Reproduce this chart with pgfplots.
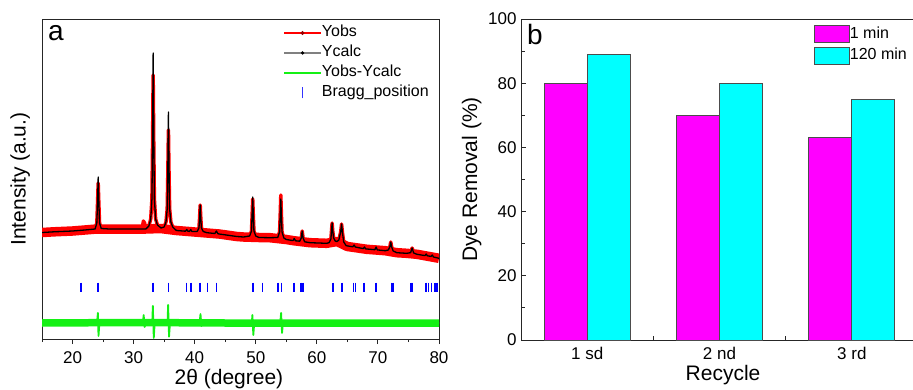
\documentclass[border=0pt]{standalone}
\usepackage{fontspec}
\setmainfont{Liberation Sans}
\usepackage{pgfplots}
\pgfplotsset{compat=1.18}
\definecolor{obsred}{RGB}{255,0,0}
\definecolor{diffgreen}{RGB}{20,240,20}
\definecolor{braggblue}{RGB}{0,0,255}
\definecolor{barmag}{RGB}{255,0,255}
\definecolor{barcyan}{RGB}{0,255,255}
\begin{document}
\begin{tikzpicture}[font=\fontsize{17}{20}\selectfont]
\path[use as bounding box] (0,0) rectangle (913pt,389pt);
% ---------------- panel a ----------------
\begin{axis}[
  at={(42pt,50pt)}, anchor=south west, scale only axis,
  width=397pt, height=320pt,
  xmin=15, xmax=80, ymin=0, ymax=320,
  ytick=\empty,
  xtick={20,30,...,80}, minor xtick={15,25,...,75},
  xtick pos=bottom, tick align=outside,
  major tick length=5pt, minor tick length=3pt,
  axis line style={line width=0.9pt, black!85},
  every tick/.style={black!85, line width=0.9pt},
  /pgf/number format/assume math mode=true,
  tick label style={font=\fontsize{17}{20}\selectfont},
  xticklabel style={yshift=-4pt},
  label style={font=\fontsize{21}{24}\selectfont},
  xlabel={2θ (degree)},
  ylabel={Intensity (a.u.)},
  xlabel style={at={(axis description cs:0.471,-0.125)}, anchor=center},
  ylabel style={at={(axis description cs:-0.055,0.5)}, anchor=center},
  legend image code/.code={\draw[mark repeat=2,mark phase=2,#1] plot coordinates {(0pt,0pt) (18.5pt,0pt) (37pt,0pt)};},
  legend style={draw=none, fill=none, at={(axis description cs:0.607,0.982)}, anchor=north west,
    inner sep=0pt, row sep=4pt, font=\fontsize{16}{18}\selectfont,
    nodes={inner sep=0pt, text height=12pt, text depth=4pt},
    /tikz/every even column/.append style={column sep=7pt}},
  legend cell align=left,
]
\addlegendimage{obsred, line width=1.6pt, mark=*, mark size=1pt, mark options={fill=red!60!black, draw=red!60!black}}
\addlegendentry{Yobs}
\addlegendimage{black!50, line width=1.3pt, mark=*, mark size=0.9pt, mark options={fill=black, draw=black}}
\addlegendentry{Ycalc}
\addlegendimage{color=diffgreen, line width=1.8pt}
\addlegendentry{Yobs-Ycalc}
\addlegendimage{legend image code/.code={\draw[braggblue!80, line width=1.2pt] (18.5pt,-5.5pt) -- (18.5pt,5.5pt);}}
\addlegendentry{Bragg\_position}
% Yobs noise band (background level)
\addplot[obsred, line width=9.5pt, line join=round, forget plot] coordinates {
(15,106.5) (17,107.2) (20,108) (22,109) (24,110) (26,110) (28,110) (30,110) (32,110) (34.4,110.5) (37,108.5) (39,107.5) (42,106) (44,105) (46.9,102.5) (48,102) (50.5,101.5) (52.3,101.3) (53.5,100.5) (55,99.5) (56.2,98.3) (58.9,96.3) (61.6,95.7) (63.3,97.5) (65,92.5) (68.2,89.7) (71.2,88.3) (73.1,86.3) (74.7,85.7) (76.4,84.7) (79.1,81.7) (80,80.7)};
% Yobs
\addplot[obsred, line width=3.5pt, line join=round, forget plot] coordinates {
(15,106.5) (17,107.2) (20,108) (22,109) (23.7,110) (23.98,116) (24.1,137) (24.2,156) (24.3,137) (24.42,116) (24.7,110.5) (26,110) (28,110) (30,110) (31.4,110) (31.6,118) (31.8,116) (32,110) (32.5,113) (32.8,120) (33.0,140) (33.1,195) (33.2,264) (33.3,195) (33.4,140) (33.6,120) (33.9,114) (34.5,111) (35.0,112) (35.3,117) (35.5,130) (35.6,165) (35.7,209) (35.8,165) (35.9,130) (36.1,117) (36.4,112) (37,108.5) (38.5,107.8) (38.7,109.5) (38.9,107.8) (39.15,107.6) (39.35,109.5) (39.55,107.5) (40.4,107.5) (40.7,111) (40.8,121) (40.9,134) (41.0,121) (41.1,111) (41.4,107.5) (42,106.3) (43.3,105.5) (43.55,108) (43.8,105.3) (44,105) (46.9,102.5) (48,102) (49.0,103) (49.3,108) (49.4,123) (49.5,140) (49.6,123) (49.7,108) (50.0,103) (50.5,101.5) (52.3,101.3) (53.6,101.5) (53.9,107) (54.0,124) (54.1,144) (54.2,124) (54.3,107) (54.6,101) (55,99.5) (56.1,98.4) (56.3,100.5) (56.5,98.2) (57.2,97.8) (57.45,101) (57.6,108) (57.75,101) (58.0,97.2) (58.9,96.3) (61.6,95.7) (62.0,96.3) (62.3,100) (62.4,108) (62.5,116) (62.6,108) (62.75,101) (63.0,98) (63.3,97.5) (63.6,99) (63.9,107) (64.05,115) (64.2,106) (64.4,97) (64.8,93.3) (65.9,92.2) (66.1,94) (66.3,92) (67.6,90.4) (67.8,92) (68.0,90.1) (69.5,89.3) (69.7,92) (69.9,89.1) (71.2,88.3) (71.7,89) (71.95,92) (72.1,97) (72.25,92) (72.5,88) (73.1,86.3) (74.7,85.7) (75.35,86.3) (75.6,91) (75.85,86) (76.4,84.7) (77.7,83.4) (77.9,85) (78.1,83.2) (78.7,82.6) (78.9,84) (79.1,82) (80,80.7)};
% Ycalc
\addplot[black, line width=1.3pt, line join=round, forget plot] coordinates {
(15,106.5) (17,107.2) (20,108) (22,109) (23.7,110) (23.98,116) (24.1,139) (24.2,162) (24.3,139) (24.42,116) (24.7,110.5) (26,110) (28,110) (30,110) (32,110) (32.5,113) (32.8,120) (33.0,140) (33.1,200) (33.2,286) (33.3,200) (33.4,140) (33.6,120) (33.9,114) (34.5,111) (35.0,112) (35.3,117) (35.5,130) (35.6,170) (35.7,227) (35.8,170) (35.9,130) (36.1,117) (36.4,112) (37,108.5) (38.5,107.8) (38.7,109.5) (38.9,107.8) (39.15,107.6) (39.35,109.5) (39.55,107.5) (40.4,107.5) (40.7,111) (40.8,120) (40.9,134) (41.0,120) (41.1,111) (41.4,107.5) (42,106.3) (43.3,105.5) (43.55,108) (43.8,105.3) (44,105) (46.9,102.5) (48,102) (49.0,103) (49.3,108) (49.4,124) (49.5,142) (49.6,124) (49.7,108) (50.0,103) (50.5,101.5) (52.3,101.3) (53.6,101.5) (53.9,107) (54.0,122) (54.1,140) (54.2,122) (54.3,107) (54.6,101) (55,99.5) (56.1,98.4) (56.3,100.5) (56.5,98.2) (57.2,97.8) (57.45,101) (57.6,108) (57.75,101) (58.0,97.2) (58.9,96.3) (61.6,95.7) (62.0,96.3) (62.3,100) (62.4,108) (62.5,116) (62.6,108) (62.75,101) (63.0,98) (63.3,97.5) (63.6,99) (63.9,107) (64.05,115) (64.2,106) (64.4,97) (64.8,93.3) (65.9,92.2) (66.1,94) (66.3,92) (67.6,90.4) (67.8,92) (68.0,90.1) (69.5,89.3) (69.7,92) (69.9,89.1) (71.2,88.3) (71.7,89) (71.95,92) (72.1,97) (72.25,92) (72.5,88) (73.1,86.3) (74.7,85.7) (75.35,86.3) (75.6,91) (75.85,86) (76.4,84.7) (77.7,83.4) (77.9,85) (78.1,83.2) (78.7,82.6) (78.9,84) (79.1,82) (80,80.7)};
% difference band
\addplot[diffgreen, line width=7.5pt, forget plot] coordinates {
(15,16) (30,16.5) (45,16) (60,16) (80,16)};
% difference spikes
\addplot[diffgreen, line width=1.8pt, line join=round, forget plot] coordinates {
(15,16) (24.0,16) (24.15,26) (24.25,3) (24.4,16) (31.5,16) (31.65,24) (31.8,12) (32.0,16) (33.05,16) (33.15,33) (33.3,1) (33.45,16) (35.55,16) (35.65,34) (35.8,2.3) (35.95,16) (40.8,16) (40.95,25) (41.1,13) (41.3,16) (49.35,16) (49.45,24) (49.6,4) (49.75,16) (54.0,16) (54.15,26) (54.3,6) (54.45,16) (80,16)};
% Bragg positions
\addplot[braggblue, only marks, mark=|, mark size=4.8pt, mark options={line width=1.6pt}, forget plot] coordinates {
(21.38,51.5) (24.12,51.5) (33.22,51.5) (35.74,51.5) (38.69,51.5) (39.35,51.5) (40.90,51.5) (42.07,51.5) (43.57,51.5) (49.55,51.5) (51.10,51.5) (53.67,51.5) (54.21,51.5) (56.26,51.5) (57.45,51.5) (57.75,51.5) (62.62,51.5) (64.07,51.5) (65.97,51.5) (66.36,51.5) (67.75,51.5) (69.72,51.5) (72.22,51.5) (72.51,51.5) (75.38,51.5) (75.69,51.5) (77.87,51.5) (78.25,51.5) (78.80,51.5) (79.34,51.5) (79.72,51.5)};
\node[anchor=base west, font=\fontsize{28}{30}\selectfont, inner sep=0pt] at (axis description cs:0.015,0.933) {a};
\end{axis}
% ---------------- panel b ----------------
\begin{axis}[
  at={(521pt,49pt)}, anchor=south west, scale only axis,
  width=397pt, height=321pt,
  xmin=-0.5, xmax=2.5, ymin=0, ymax=100,
  ybar=0pt, bar width=43pt,
  xtick={0,1,2}, xticklabels={1 sd, 2 nd, 3 rd},
  major x tick style={draw=none},
  minor xtick={0.5,1.5},
  ytick={0,20,...,100}, minor ytick={10,30,...,90},
  tick align=inside, xtick pos=bottom, ytick pos=left,
  major tick length=5pt, minor tick length=4pt,
  axis line style={line width=0.9pt, black!85},
  every tick/.style={black!85, line width=0.9pt},
  /pgf/number format/assume math mode=true,
  tick label style={font=\fontsize{17}{20}\selectfont},
  xticklabel style={yshift=-4pt},
  yticklabel style={xshift=-1pt},
  label style={font=\fontsize{21}{24}\selectfont},
  xlabel={Recycle}, ylabel={Dye Removal (\%)},
  xlabel style={at={(axis description cs:0.509,-0.108)}, anchor=center},
  ylabel style={at={(axis description cs:-0.124,0.5)}, anchor=center},
  legend image code/.code={\draw[#1] (0pt,-8.5pt) rectangle (35pt,8.5pt);},
  legend style={draw=none, fill=none, at={(axis description cs:0.738,0.981)}, anchor=north west,
    inner sep=0pt, row sep=4pt, font=\fontsize{16}{18}\selectfont,
    nodes={inner sep=0pt, text height=12pt, text depth=4pt},
    /tikz/every even column/.append style={column sep=6pt}},
  legend cell align=left,
]
\addplot[fill=barmag, draw=black!70, line width=0.7pt] coordinates {(0,80) (1,70) (2,63)};
\addlegendentry{1 min}
\addplot[fill=barcyan, draw=black!70, line width=0.7pt] coordinates {(0,89) (1,80) (2,75)};
\addlegendentry{120 min}
\node[anchor=base west, font=\fontsize{28}{30}\selectfont, inner sep=0pt] at (axis description cs:0.015,0.919) {b};
\end{axis}
\end{tikzpicture}
\end{document}
